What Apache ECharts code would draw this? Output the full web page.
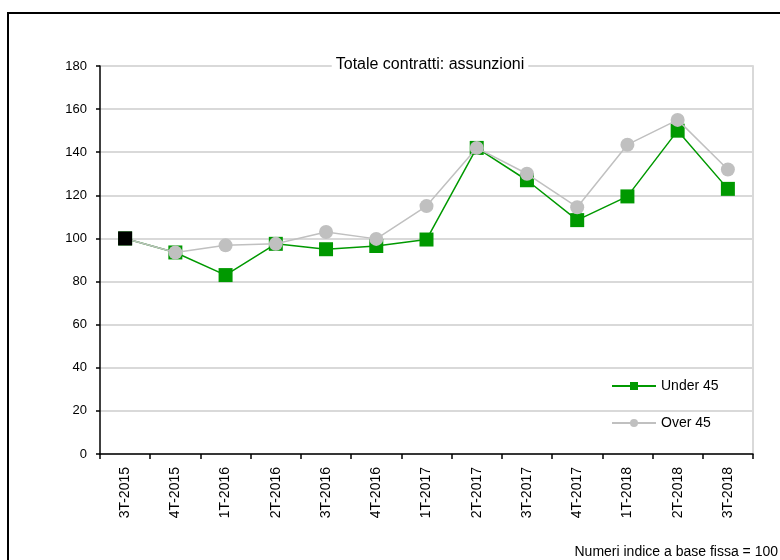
<!DOCTYPE html>
<html>
<head>
<meta charset="utf-8">
<script src="https://cdn.jsdelivr.net/npm/echarts@6/dist/echarts.min.js"></script>
<style>html,body{margin:0;padding:0;background:#fff}#c{width:780px;height:560px}</style>
</head>
<body>
<div id="c"></div>
<script>
var categories = ['3T-2015','4T-2015','1T-2016','2T-2016','3T-2016','4T-2016','1T-2017','2T-2017','3T-2017','4T-2017','1T-2018','2T-2018','3T-2018'];
var under45 = [100, 93.5, 83, 97.5, 95, 96.5, 99.5, 142, 127, 108.5, 119.5, 150, 123];
var over45 = [100, 93.5, 96.8, 97.5, 103, 99.8, 115, 142, 130, 114.5, 143.5, 155, 132];
var yTicks = [0, 20, 40, 60, 80, 100, 120, 140, 160, 180];
var titleText = 'Totale contratti: assunzioni';
var footText = 'Numeri indice a base fissa = 100';

var font = 'Liberation Sans, Arial, sans-serif';
var chart = echarts.init(document.getElementById('c'), null, {renderer: 'canvas'});
var overData = over45.map(function (v, i) {
  if (i === 0) return {value: v, symbol: 'rect', symbolSize: 14, itemStyle: {color: '#000'}};
  return v;
});
chart.setOption({
  animation: false,
  backgroundColor: '#fff',
  textStyle: {fontFamily: font},
  title: [{
    text: titleText,
    left: 426, top: 57, textAlign: 'center',
    backgroundColor: '#fff', padding: [0, 4],
    textStyle: {fontSize: 16, fontWeight: 'normal', color: '#000', fontFamily: font}
  }, {
    text: footText,
    right: 2, bottom: 1, padding: 0,
    textStyle: {fontSize: 14, fontWeight: 'normal', color: '#000', fontFamily: font}
  }],
  graphic: [{
    type: 'rect', z: 100,
    shape: {x: 8, y: 13, width: 900, height: 700},
    style: {fill: 'none', stroke: '#000', lineWidth: 2}
  }],
  legend: {
    orient: 'vertical', left: 606, top: 374, itemGap: 23,
    itemWidth: 44, itemHeight: 10,
    data: ['Under 45', 'Over 45'],
    textStyle: {fontSize: 14, color: '#000', fontFamily: font}
  },
  grid: {left: 100, right: 27, top: 66, bottom: 106, containLabel: false},
  xAxis: {
    type: 'category', data: categories, boundaryGap: true,
    axisLine: {lineStyle: {color: '#000', width: 1.5}},
    axisTick: {show: true, length: 5, lineStyle: {color: '#000', width: 1.5}},
    axisLabel: {rotate: 90, fontSize: 14, color: '#000', margin: 13, fontFamily: font}
  },
  yAxis: [{
    type: 'value', min: yTicks[0], max: yTicks[yTicks.length - 1], interval: 20,
    axisLine: {show: true, lineStyle: {color: '#000', width: 1.5}},
    axisTick: {show: true, length: 4, lineStyle: {color: '#000', width: 1.5}},
    axisLabel: {fontSize: 13, color: '#000', margin: 13, fontFamily: font},
    splitLine: {show: true, lineStyle: {color: '#d9d9d9', width: 2}}
  }, {
    type: 'value', position: 'right', min: 0, max: 180, interval: 20,
    axisLine: {show: true, lineStyle: {color: '#d9d9d9', width: 2}},
    axisTick: {show: false}, axisLabel: {show: false}, splitLine: {show: false}
  }],
  series: [{
    name: 'Under 45', type: 'line', data: under45, z: 2,
    symbol: 'rect', symbolSize: 14,
    lineStyle: {color: '#009900', width: 1.5},
    itemStyle: {color: '#009900'}
  }, {
    name: 'Over 45', type: 'line', data: overData, z: 3,
    symbol: 'circle', symbolSize: 14,
    lineStyle: {color: '#c0c0c0', width: 1.5},
    itemStyle: {color: '#c0c0c0'}
  }]
});
</script>
</body>
</html>
